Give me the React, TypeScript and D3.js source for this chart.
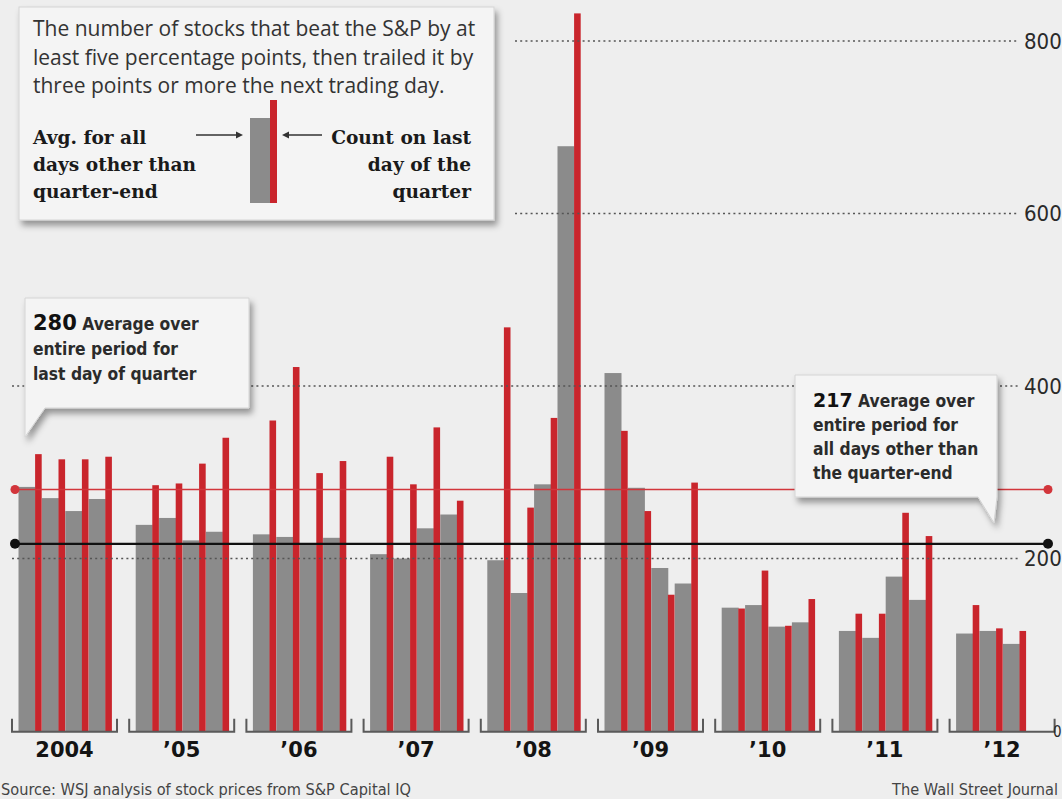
import React from 'react';
import * as d3 from 'd3';

// Years shown along the bottom; 2012 has only three quarters of data.
const years = ['2004', '\u201905', '\u201906', '\u201907', '\u201908', '\u201909', '\u201910', '\u201911', '\u201912'];
const quarters = ['Q1', 'Q2', 'Q3', 'Q4'];

// Average daily count on all days other than quarter-end (gray bars)
const otherDaysAvg: number[][] = [
  [283, 270, 255, 269],
  [239, 247, 221, 231],
  [228, 225, 218, 224],
  [205, 200, 235, 251],
  [198, 160, 286, 678],
  [415, 282, 189, 171],
  [143, 146, 121, 126],
  [116, 108, 179, 152],
  [113, 116, 101],
];

// Count on the last trading day of each quarter (red bars)
const quarterEndCount: number[][] = [
  [321, 315, 315, 318],
  [285, 287, 310, 340],
  [360, 422, 299, 313],
  [318, 286, 352, 267],
  [468, 259, 363, 832],
  [348, 255, 158, 288],
  [142, 186, 122, 153],
  [136, 136, 253, 226],
  [146, 119, 116],
];

const yTicks = [0, 200, 400, 600, 800];

// Whole-period averages shown as reference lines
const avgQuarterEnd = 280;
const avgOtherDays = 217;

const W = 1062;
const H = 799;

const BG = '#eeeeee';
const GRAY = '#8b8b8b';
const RED = '#c9252c';
const AVG_RED = '#d2353b';

const sansBody = "'Open Sans', 'Noto Sans', sans-serif";
const condensed = "'DejaVu Sans Condensed', 'DejaVu Sans', sans-serif";
const slab = "'DejaVu Serif', serif";

export default function App() {
  const y = d3.scaleLinear().domain([0, 800]).range([731, 41]);

  const xYear = d3
    .scaleBand<string>()
    .domain(years)
    .range([12, 1054.6])
    .paddingInner(0.104)
    .paddingOuter(0);

  const xQuarter = d3
    .scaleBand<string>()
    .domain(quarters)
    .range([6.5, 6.5 + 4 * 23.4])
    .padding(0);

  const grayW = 17;
  const redW = 6.6;

  const gridStart = (v: number) => (v >= 600 ? 515 : 12);

  return (
    <svg
      width={W}
      height={H}
      viewBox={`0 0 ${W} ${H}`}
      style={{ position: 'absolute', left: 0, top: 0, display: 'block' }}
    >
      <defs>
        <filter id="boxShadow" x="-10%" y="-10%" width="125%" height="135%">
          <feDropShadow dx="3" dy="5" stdDeviation="3" floodColor="#000" floodOpacity="0.38" />
        </filter>
      </defs>

      <rect x={0} y={0} width={W} height={H} fill={BG} />

      {/* bars */}
      {years.map((yr, gi) => {
        const gx = xYear(yr)!;
        return (
          <g key={yr}>
            {otherDaysAvg[gi].map((v, qi) => {
              const qx = gx + xQuarter(quarters[qi])!;
              return (
                <rect key={`g${qi}`} x={qx} y={y(v)} width={grayW} height={y(0) - y(v)} fill={GRAY} />
              );
            })}
            {quarterEndCount[gi].map((v, qi) => {
              const qx = gx + xQuarter(quarters[qi])! + grayW - 0.4;
              return (
                <rect key={`r${qi}`} x={qx} y={y(v)} width={redW} height={y(0) - y(v)} fill={RED} />
              );
            })}
          </g>
        );
      })}

      {/* dotted gridlines */}
      {yTicks
        .filter((t) => t > 0)
        .map((t) => (
          <line
            key={`grid${t}`}
            x1={gridStart(t)}
            x2={1018}
            y1={y(t)}
            y2={y(t)}
            stroke="#555"
            strokeWidth={1.4}
            strokeDasharray="2 3.2"
          />
        ))}

      {/* year brackets */}
      {years.map((yr) => {
        const x0 = xYear(yr)!;
        const x1 = x0 + xYear.bandwidth();
        const by = y(0) + 0.8;
        return (
          <g key={`br${yr}`}>
            <path
              d={`M${x0},${by - 13} V${by} H${x1} V${by - 13}`}
              fill="none"
              stroke="#5a5a5a"
              strokeWidth={2}
            />
            <text
              x={(x0 + x1) / 2}
              y={757}
              textAnchor="middle"
              fontFamily="'DejaVu Sans', sans-serif"
              fontWeight="bold"
              fontSize={21}
              fill="#141414"
            >
              {yr}
            </text>
          </g>
        );
      })}

      {/* whole-period average lines */}
      <line x1={15} x2={1048} y1={y(avgQuarterEnd)} y2={y(avgQuarterEnd)} stroke={AVG_RED} strokeWidth={1.5} />
      <circle cx={15} cy={y(avgQuarterEnd)} r={4.5} fill={AVG_RED} />
      <circle cx={1048} cy={y(avgQuarterEnd)} r={4.5} fill={AVG_RED} />
      <line x1={15} x2={1048} y1={y(avgOtherDays)} y2={y(avgOtherDays)} stroke="#111" strokeWidth={2.2} />
      <circle cx={15} cy={y(avgOtherDays)} r={5} fill="#111" />
      <circle cx={1048} cy={y(avgOtherDays)} r={5} fill="#111" />

      {/* right-hand value axis */}
      {yTicks.map((t) => (
        <text
          key={`tick${t}`}
          x={t === 0 ? 1053 : 1024}
          y={y(t) + (t === 0 ? 5.5 : 7.5)}
          fontFamily={condensed}
          fontSize={t === 0 ? 15 : 22}
          fill="#2a2a2a"
        >
          {t}
        </text>
      ))}

      {/* callout: quarter-end average */}
      <path
        d="M25,298 H249 V408 H45 L25,437 Z"
        fill="#f4f4f4"
        stroke="#d4d4d4"
        strokeWidth={1}
        filter="url(#boxShadow)"
      />
      <text fontFamily={condensed} fontSize={17.3} fill="#2b2b2b" fontWeight="bold">
        <tspan x={33} y={330}>
          <tspan fontFamily="'DejaVu Sans', sans-serif" fontSize={21} fill="#111">{avgQuarterEnd}</tspan>
          <tspan> Average over</tspan>
        </tspan>
        <tspan x={33} y={355}>entire period for</tspan>
        <tspan x={33} y={380}>last day of quarter</tspan>
      </text>

      {/* callout: other-days average */}
      <path
        d="M795,375 H997 V497 L994,523 L978,497 H795 Z"
        fill="#f4f4f4"
        stroke="#d4d4d4"
        strokeWidth={1}
        filter="url(#boxShadow)"
      />
      <text fontFamily={condensed} fontSize={17.3} fill="#2b2b2b" fontWeight="bold">
        <tspan x={813} y={407}>
          <tspan fontFamily="'DejaVu Sans', sans-serif" fontSize={19} fill="#111">{avgOtherDays}</tspan>
          <tspan> Average over</tspan>
        </tspan>
        <tspan x={813} y={431}>entire period for</tspan>
        <tspan x={813} y={455}>all days other than</tspan>
        <tspan x={813} y={479}>the quarter-end</tspan>
      </text>

      {/* legend */}
      <rect
        x={19}
        y={7}
        width={475}
        height={213}
        fill="#f4f4f4"
        stroke="#d4d4d4"
        strokeWidth={1}
        filter="url(#boxShadow)"
      />
      <text fontFamily={sansBody} fontSize={21} fill="#333">
        <tspan x={33} y={36}>The number of stocks that beat the S&amp;P by at</tspan>
        <tspan x={33} y={65}>least five percentage points, then trailed it by</tspan>
        <tspan x={33} y={93}>three points or more the next trading day.</tspan>
      </text>
      <text fontFamily={slab} fontWeight="bold" fontSize={18.6} fill="#1a1a1a">
        <tspan x={33} y={144}>Avg. for all</tspan>
        <tspan x={33} y={171}>days other than</tspan>
        <tspan x={33} y={198}>quarter-end</tspan>
      </text>
      <text fontFamily={slab} fontWeight="bold" fontSize={18.6} fill="#1a1a1a" textAnchor="end">
        <tspan x={471} y={144}>Count on last</tspan>
        <tspan x={471} y={171}>day of the</tspan>
        <tspan x={471} y={198}>quarter</tspan>
      </text>
      <rect x={250} y={118} width={20} height={85} fill={GRAY} />
      <rect x={270} y={100} width={7} height={103} fill={RED} />
      <line x1={196} x2={238} y1={135} y2={135} stroke="#333" strokeWidth={1.3} />
      <path d="M243,135 L236,131.5 L236,138.5 Z" fill="#333" />
      <line x1={322} x2={287} y1={135} y2={135} stroke="#333" strokeWidth={1.3} />
      <path d="M282,135 L289,131.5 L289,138.5 Z" fill="#333" />

      {/* credits */}
      <text x={1} y={795} fontFamily={condensed} fontSize={16.2} fill="#444">
        Source: WSJ analysis of stock prices from S&amp;P Capital IQ
      </text>
      <text x={1058} y={795} textAnchor="end" fontFamily={condensed} fontSize={16.2} fill="#444">
        The Wall Street Journal
      </text>
    </svg>
  );
}
